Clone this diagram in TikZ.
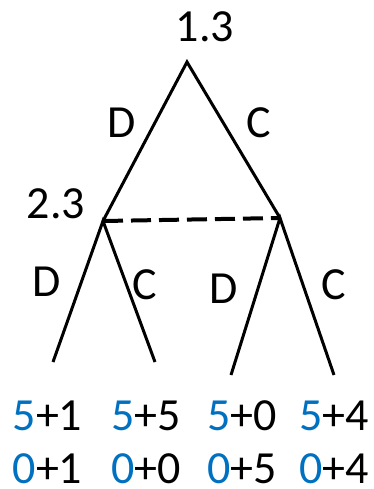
\documentclass[tikz,border=0pt]{standalone}
\usepackage{fontspec}
\setmainfont{Carlito}
\definecolor{pblue}{RGB}{0,112,192}
\begin{document}
\begin{tikzpicture}[x=1pt,y=-1pt,
  lbl/.style={inner sep=0pt,font=\fontsize{46}{50}\selectfont},
  edge/.style={line width=3pt},
  info/.style={line width=4pt,dash pattern=on 20pt off 8pt}]
\useasboundingbox (0,0) rectangle (374,489);
\coordinate (root) at (187,62);
\coordinate (n2) at (103,221);
\coordinate (n3) at (280,218);
\coordinate (l1) at (53,362);
\coordinate (l2) at (155,362);
\coordinate (l3) at (231,375);
\coordinate (l4) at (334,375);
\draw[edge] (n2) -- (root) -- (n3);
\draw[edge] (l1) -- (n2) -- (l2);
\draw[edge] (l3) -- (n3) -- (l4);
\draw[info] (n2) -- (n3);
\node[lbl] (t1) at (205,27) {1.3};
\node[lbl] (t2) at (56,204) {2.3};
\node[lbl] (d1) at (122,123) {D};
\node[lbl] (c1) at (259,123) {C};
\node[lbl] (d2) at (47,282) {D};
\node[lbl] (c2) at (145,285) {C};
\node[lbl] (d3) at (224,289) {D};
\node[lbl] (c3) at (334,285) {C};
\node[lbl] (p1) at (47.5,416) {\textcolor{pblue}{5}+1};
\node[lbl] (p2) at (146,416) {\textcolor{pblue}{5}+5};
\node[lbl] (p3) at (242,416) {\textcolor{pblue}{5}+0};
\node[lbl] (p4) at (334,416) {\textcolor{pblue}{5}+4};
\node[lbl] (q1) at (47.5,469) {\textcolor{pblue}{0}+1};
\node[lbl] (q2) at (146,469) {\textcolor{pblue}{0}+0};
\node[lbl] (q3) at (242,469) {\textcolor{pblue}{0}+5};
\node[lbl] (q4) at (334,469) {\textcolor{pblue}{0}+4};
\end{tikzpicture}
\end{document}
